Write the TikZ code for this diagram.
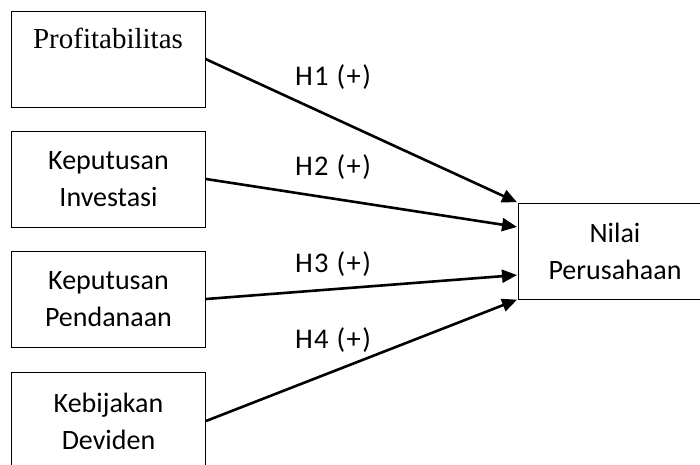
\documentclass[tikz,border=0pt]{standalone}
\usepackage{fontspec}
\setmainfont{Carlito}
\newfontfamily\serifb{Liberation Serif}
\newfontfamily\hypfont[LetterSpace=5]{Carlito}
\usetikzlibrary{arrows.meta}
\tikzset{
  varbox/.style={draw, line width=1pt, rectangle, inner sep=0pt, align=center,
    minimum width=194pt, minimum height=96pt, font=\fontsize{28}{37}\selectfont},
  arr/.style={line width=2.6pt, -{Triangle[length=15pt,width=13pt]}, shorten >=0.5pt},
  hyp/.style={anchor=base, inner sep=0pt, font=\hypfont\fontsize{28.5}{34}\selectfont}
}
\begin{document}
\begin{tikzpicture}[x=1pt,y=-1pt]
\useasboundingbox (0,0) rectangle (700,464);
\clip (0,0) rectangle (700,464);
\node[varbox] (b1) at (108,59) {};
\node[anchor=base, inner sep=0pt, font=\serifb\fontsize{29}{34}\selectfont] (t1) at (108,48) {Profitabilitas};
\node[varbox] (b2) at (108.5,179) {Keputusan\\Investasi};
\node[varbox] (b3) at (108.5,299) {Keputusan\\Pendanaan};
\node[varbox, minimum height=98pt] (b4) at (108.5,421) {Kebijakan\\Deviden};
\node[varbox] (rb) at (615,251) {Nilai\\Perusahaan};
\draw[arr] (b1.east) -- (rb.north west);
\draw[arr] (b2.east) -- ([yshift=24pt]rb.west);
\draw[arr] (b3.east) -- ([yshift=-24pt]rb.west);
\draw[arr] (b4.east) -- (rb.south west);
\node[hyp] (h1) at (333,85) {H1 (+)};
\node[hyp] (h2) at (333,175) {H2 (+)};
\node[hyp] (h3) at (333,272) {H3 (+)};
\node[hyp] (h4) at (333,348) {H4 (+)};
\end{tikzpicture}
\end{document}
